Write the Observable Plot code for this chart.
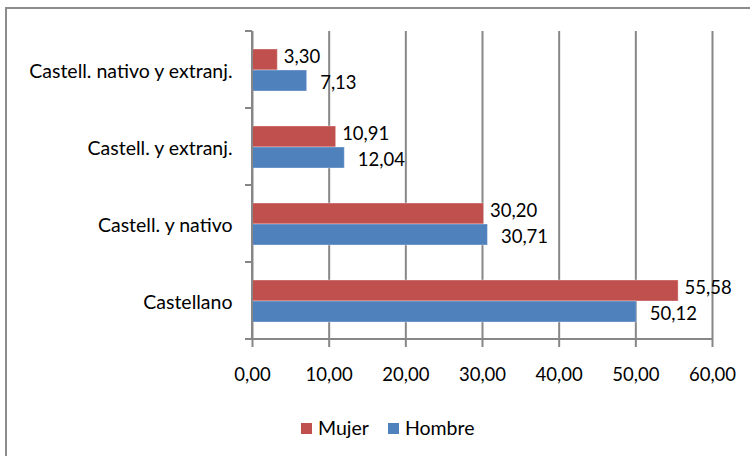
<!DOCTYPE html>
<html><head><meta charset="utf-8">
<script src="https://cdn.jsdelivr.net/npm/d3@7"></script>
<script src="https://cdn.jsdelivr.net/npm/@observablehq/plot@0.6"></script>
<style>
body{margin:0;background:#fff;font-family:Lato,"Open Sans",sans-serif;}
#wrap{position:relative;width:750px;height:456px;overflow:hidden;background:#fff}
#frame{position:absolute;left:5px;top:7px;width:800px;height:500px;border-left:2px solid #8c8c8c;border-top:2px solid #8c8c8c;box-sizing:border-box}
#chart{position:absolute;left:0;top:0}
#legend{position:absolute;top:416px;left:301px;display:flex;align-items:center;font-size:19.5px;line-height:24px;color:#000;white-space:nowrap}
.sw{display:inline-block;width:11px;height:11px;margin-right:6px}
.item{display:flex;align-items:center;margin-right:19px}
</style>
</head><body>
<div id="wrap"><div id="frame"></div><div id="chart"></div><div id="legend"></div></div>
<script>
const categories = ["Castell. nativo y extranj.", "Castell. y extranj.", "Castell. y nativo", "Castellano"];
const series = ["Mujer", "Hombre"];
const mujer = [3.30, 10.91, 30.20, 55.58];
const hombre = [7.13, 12.04, 30.71, 50.12];
const xTicks = [0, 10, 20, 30, 40, 50, 60];
const colors = ["#C0504D", "#4F81BD"];

const fmt = v => d3.format(".2f")(v).replace(".", ",");
const values = {Mujer: mujer, Hombre: hombre};
const data = [];
categories.forEach((c, i) => series.forEach(s => data.push({cat: c, sex: s, value: values[s][i]})));

const gray = "#878787";
const plot = Plot.plot({
  width: 750, height: 400,
  marginLeft: 252, marginRight: 38, marginTop: 30, marginBottom: 60,
  style: {fontFamily: "Lato, sans-serif", fontSize: "18.5px", color: "#000", background: "transparent", overflow: "visible"},
  x: {domain: [0, 60], axis: null},
  fy: {domain: categories, padding: 0, axis: null},
  y: {domain: series, paddingInner: 0, paddingOuter: 0.76, axis: null},
  color: {domain: series, range: colors},
  marks: [
    Plot.gridX(xTicks, {stroke: gray, strokeWidth: 2, strokeOpacity: 1}),
    Plot.barX(data, {fy: "cat", y: "sex", x: "value", fill: "sex", stroke: "#ffffff", strokeOpacity: 0.35, strokeWidth: 1}),
    Plot.text(data.filter(d => d.sex === series[0]), {fy: "cat", y: "sex", x: "value", text: d => fmt(d.value), textAnchor: "start", dx: 6, dy: -2.5, fill: "#000"}),
    Plot.text(data.filter(d => d.sex === series[1]), {fy: "cat", y: "sex", x: "value", text: d => fmt(d.value), textAnchor: "start", dx: 13, dy: 2.5, fill: "#000"}),
    Plot.axisX(xTicks, {tickSize: 8, tickPadding: 20, stroke: gray, strokeWidth: 2, strokeOpacity: 1, tickFormat: fmt, label: null, fill: "#000"}),
    Plot.axisFy({anchor: "left", tickSize: 0, tickPadding: 20, dy: 2, label: null, fill: "#000", fontSize: "19.5px"})
  ]
});
document.getElementById("chart").appendChild(plot);

// axis lines and category boundary ticks, from the library's scales
const xS = plot.scale("x"), fyS = plot.scale("fy");
const x0 = xS.apply(0), x1 = xS.apply(60);
const tops = categories.map(c => fyS.apply(c));
const bottom = fyS.apply(categories[categories.length - 1]) + fyS.bandwidth;
const g = d3.select(plot).append("g").attr("stroke", gray).attr("stroke-width", 2);
g.append("line").attr("x1", x0).attr("x2", x0).attr("y1", tops[0]).attr("y2", bottom);
g.append("line").attr("x1", x0 - 7).attr("x2", x1 + 1).attr("y1", bottom).attr("y2", bottom);
[...tops, bottom].forEach(y => g.append("line").attr("x1", x0 - 7).attr("x2", x0).attr("y1", y).attr("y2", y));

const legend = d3.select("#legend");
series.forEach((s, i) => {
  const it = legend.append("div").attr("class", "item");
  it.append("span").attr("class", "sw").style("background", colors[i]);
  it.append("span").text(s);
});
</script>
</body></html>
